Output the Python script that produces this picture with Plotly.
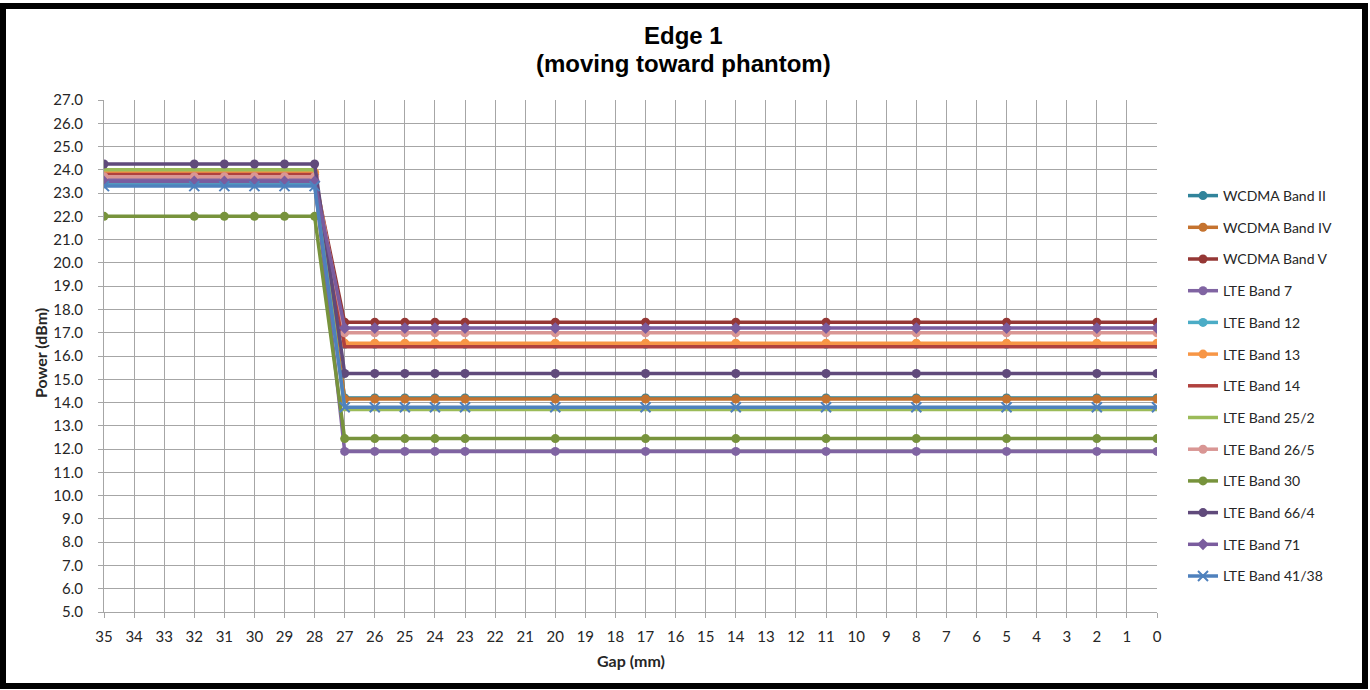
import plotly.graph_objects as go

gap = [35, 32, 31, 30, 29, 28, 27, 26, 25, 24, 23, 20, 17, 14, 11, 8, 5, 2, 0]

series_names = ["WCDMA Band II", "WCDMA Band IV", "WCDMA Band V", "LTE Band 7", "LTE Band 12",
                "LTE Band 13", "LTE Band 14", "LTE Band 25/2", "LTE Band 26/5", "LTE Band 30",
                "LTE Band 66/4", "LTE Band 71", "LTE Band 41/38"]

wcdma_b2 = [23.4, 23.4, 23.4, 23.4, 23.4, 23.4, 14.2, 14.2, 14.2, 14.2, 14.2, 14.2, 14.2, 14.2, 14.2, 14.2, 14.2, 14.2, 14.2]
wcdma_b4 = [23.8, 23.8, 23.8, 23.8, 23.8, 23.8, 14.15, 14.15, 14.15, 14.15, 14.15, 14.15, 14.15, 14.15, 14.15, 14.15, 14.15, 14.15, 14.15]
wcdma_b5 = [23.7, 23.7, 23.7, 23.7, 23.7, 23.7, 17.45, 17.45, 17.45, 17.45, 17.45, 17.45, 17.45, 17.45, 17.45, 17.45, 17.45, 17.45, 17.45]
lte_b7 = [23.6, 23.6, 23.6, 23.6, 23.6, 23.6, 11.9, 11.9, 11.9, 11.9, 11.9, 11.9, 11.9, 11.9, 11.9, 11.9, 11.9, 11.9, 11.9]
lte_b12 = [23.4, 23.4, 23.4, 23.4, 23.4, 23.4, 16.5, 16.5, 16.5, 16.5, 16.5, 16.5, 16.5, 16.5, 16.5, 16.5, 16.5, 16.5, 16.5]
lte_b13 = [23.9, 23.9, 23.9, 23.9, 23.9, 23.9, 16.55, 16.55, 16.55, 16.55, 16.55, 16.55, 16.55, 16.55, 16.55, 16.55, 16.55, 16.55, 16.55]
lte_b14 = [23.8, 23.8, 23.8, 23.8, 23.8, 23.8, 16.4, 16.4, 16.4, 16.4, 16.4, 16.4, 16.4, 16.4, 16.4, 16.4, 16.4, 16.4, 16.4]
lte_b25 = [24.0, 24.0, 24.0, 24.0, 24.0, 24.0, 13.7, 13.7, 13.7, 13.7, 13.7, 13.7, 13.7, 13.7, 13.7, 13.7, 13.7, 13.7, 13.7]
lte_b26 = [23.7, 23.7, 23.7, 23.7, 23.7, 23.7, 17.0, 17.0, 17.0, 17.0, 17.0, 17.0, 17.0, 17.0, 17.0, 17.0, 17.0, 17.0, 17.0]
lte_b30 = [22.0, 22.0, 22.0, 22.0, 22.0, 22.0, 12.45, 12.45, 12.45, 12.45, 12.45, 12.45, 12.45, 12.45, 12.45, 12.45, 12.45, 12.45, 12.45]
lte_b66 = [24.25, 24.25, 24.25, 24.25, 24.25, 24.25, 15.25, 15.25, 15.25, 15.25, 15.25, 15.25, 15.25, 15.25, 15.25, 15.25, 15.25, 15.25, 15.25]
lte_b71 = [23.5, 23.5, 23.5, 23.5, 23.5, 23.5, 17.2, 17.2, 17.2, 17.2, 17.2, 17.2, 17.2, 17.2, 17.2, 17.2, 17.2, 17.2, 17.2]
lte_b41 = [23.3, 23.3, 23.3, 23.3, 23.3, 23.3, 13.8, 13.8, 13.8, 13.8, 13.8, 13.8, 13.8, 13.8, 13.8, 13.8, 13.8, 13.8, 13.8]

values = [wcdma_b2, wcdma_b4, wcdma_b5, lte_b7, lte_b12, lte_b13, lte_b14,
          lte_b25, lte_b26, lte_b30, lte_b66, lte_b71, lte_b41]

colors = ["#31849B", "#C5732F", "#953735", "#8064A2", "#4BACC6", "#F79646", "#B0413E",
          "#9BBB59", "#D99694", "#77933C", "#604A7B", "#7A5C9E", "#4F81BD"]
symbols = ["circle", "circle", "circle", "circle", "circle", "circle", None,
           None, "circle", "circle", "circle", "diamond", "x-thin"]

y_ticks = [5 + i for i in range(23)]
x_ticks = list(range(35, -1, -1))

W, H = 1370, 690
L, R, T, B = 104, 213, 100, 78
pw, ph = W - L - R, H - T - B


def px_x(p):
    return (p - L) / pw


def px_y(p):
    return (H - B - p) / ph


fig = go.Figure()
for name, vals, col, sym in zip(series_names, values, colors, symbols):
    if sym is None:
        mode = "lines"
        marker = None
    else:
        mode = "lines+markers"
        marker = dict(symbol=sym, size=9 if sym != "x-thin" else 10, color=col,
                      line=dict(color=col, width=2 if sym == "x-thin" else 0))
    fig.add_trace(go.Scatter(x=gap, y=vals, name=name, mode=mode,
                             line=dict(color=col, width=3.5),
                             marker=marker, legendgroup=name))

grid = "#A6A6A6"
txt = "#262626"
fig.update_layout(
    width=W, height=H,
    margin=dict(l=L, r=R, t=T, b=B),
    paper_bgcolor="white", plot_bgcolor="white",
    font=dict(family="Lato, Calibri, sans-serif", size=14, color=txt),
    showlegend=True,
    legend=dict(x=px_x(1183), xanchor="left", y=px_y(180), yanchor="top",
                traceorder="grouped", tracegroupgap=10.5,
                font=dict(family="Lato, Calibri, sans-serif", size=14, color=txt),
                bgcolor="rgba(0,0,0,0)", itemwidth=30),
    xaxis=dict(range=[35, 0], tickmode="array", tickvals=x_ticks,
               ticktext=[str(v) for v in x_ticks],
               showgrid=True, gridcolor=grid, gridwidth=1,
               showline=True, linecolor=grid, linewidth=1,
               ticks="outside", ticklen=5, tickcolor=grid,
               ticklabelstandoff=6, zeroline=False,
               tickfont=dict(size=15)),
    yaxis=dict(range=[5, 27], tickmode="array", tickvals=y_ticks,
               ticktext=[f"{v:.1f}" for v in y_ticks],
               showgrid=True, gridcolor=grid, gridwidth=1,
               showline=True, linecolor=grid, linewidth=1,
               ticks="outside", ticklen=5, tickcolor=grid,
               ticklabelstandoff=12, zeroline=False,
               tickfont=dict(size=15)),
)

title_font = dict(family="Liberation Sans, Arial", size=24, color="#000000")
fig.add_annotation(text="<b>Edge 1</b>", xref="paper", yref="paper",
                   x=px_x(683), y=px_y(35), xanchor="center", yanchor="middle",
                   showarrow=False, font=title_font)
fig.add_annotation(text="<b>(moving toward phantom)</b>", xref="paper", yref="paper",
                   x=px_x(683), y=px_y(63), xanchor="center", yanchor="middle",
                   showarrow=False, font=title_font)
fig.add_annotation(text="<b>Power (dBm)</b>", xref="paper", yref="paper",
                   x=px_x(40), y=px_y(353), xanchor="center", yanchor="middle",
                   textangle=-90, showarrow=False,
                   font=dict(family="Lato, Calibri, sans-serif", size=16, color=txt))
fig.add_annotation(text="<b>Gap (mm)</b>", xref="paper", yref="paper",
                   x=px_x(631), y=px_y(660), xanchor="center", yanchor="middle",
                   showarrow=False,
                   font=dict(family="Lato, Calibri, sans-serif", size=16, color=txt))

# black outer frame like the reference screenshot
fig.add_shape(type="rect", xref="paper", yref="paper",
              x0=px_x(3), x1=px_x(1365), y0=px_y(6), y1=px_y(686),
              line=dict(color="black", width=6), fillcolor="rgba(0,0,0,0)", layer="above")

fig.write_html("out.html", config={"displayModeBar": False},
               post_script="document.body.style.margin='0';document.body.style.overflow='hidden';")
